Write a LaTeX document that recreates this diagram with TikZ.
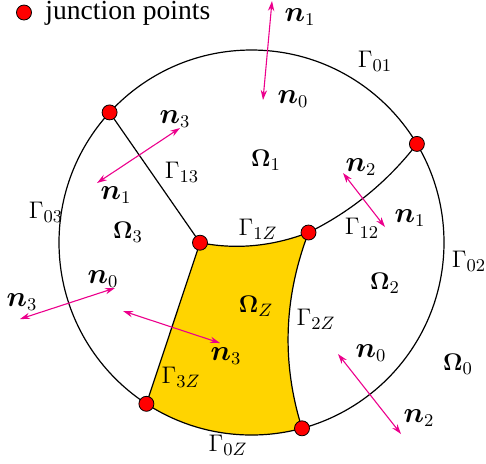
\documentclass[tikz,border=0pt]{standalone}
\usepackage{amsmath}
\usepackage[no-math]{fontspec}
\setmainfont{Liberation Serif}
\usetikzlibrary{arrows.meta}
\definecolor{zyellow}{RGB}{255,212,0}
\tikzset{
  junction/.style={circle, fill=red, draw=black, line width=0.4pt, minimum size=7.5pt, inner sep=0pt},
  bnd/.style={draw=black, line width=0.6pt},
  nrm/.style={draw=magenta, line width=0.55pt, {Stealth[length=5pt,width=3.2pt]}-{Stealth[length=5pt,width=3.2pt]}},
  lab/.style={inner sep=0pt, font=\fontsize{12.6}{15}\selectfont},
  nlab/.style={inner sep=0pt, font=\fontsize{13.5}{16}\selectfont},
}
\begin{document}
\begin{tikzpicture}[x=0.5pt,y=-0.5pt]
\useasboundingbox (0,0) rectangle (486,463);
% geometry
\coordinate (C) at (251.5,242.5);
\coordinate (TL) at (109.6,112.4);
\coordinate (TR) at (416.9,143.9);
\coordinate (BL) at (146.4,403.8);
\coordinate (BR) at (302,428.3);
\coordinate (A) at (200,242.7);
\coordinate (B) at (308.5,232.5);
% Omega_Z region
\fill[zyellow] (A) .. controls (236.2,249.8) and (272.3,246.4) .. (B)
  .. controls (283.6,297.8) and (281.5,363) .. (BR)
  arc[start angle=74.8, end angle=123.1, radius=192.5] -- cycle;
% boundaries
\draw[bnd] (C) circle[radius=192.5];
\draw[bnd] (TL) -- (A);
\draw[bnd] (A) -- (BL);
\draw[bnd] (A) .. controls (236.2,249.8) and (272.3,246.4) .. (B);
\draw[bnd] (B) .. controls (283.6,297.8) and (281.5,363) .. (BR);
\draw[bnd] (B) .. controls (351.4,211.3) and (387.6,181.7) .. (TR);
% junction points
\node[junction] (jTL) at (TL) {};
\node[junction] (jTR) at (TR) {};
\node[junction] (jBL) at (BL) {};
\node[junction] (jBR) at (BR) {};
\node[junction] (jA) at (A) {};
\node[junction] (jB) at (B) {};
% legend
\node[junction] (legdot) at (24,12.5) {};
\node[anchor=base west, inner sep=0pt, font=\fontsize{13.8}{16}\selectfont] (legtext) at (45,19) {junction points};
% normal vectors
\coordinate (a1s) at (272,1);   \coordinate (a1e) at (263,100);
\coordinate (a2s) at (180,128); \coordinate (a2e) at (97,183);
\coordinate (a3s) at (343,173); \coordinate (a3e) at (385,227);
\coordinate (a4s) at (115,288); \coordinate (a4e) at (20,319);
\coordinate (a5s) at (123,311); \coordinate (a5e) at (220,343);
\coordinate (a6s) at (338,354); \coordinate (a6e) at (401,434);
\draw[nrm] (a1s) -- (a1e);
\draw[nrm] (a2s) -- (a2e);
\draw[nrm] (a3s) -- (a3e);
\draw[nrm] (a4s) -- (a4e);
\draw[nrm] (a5s) -- (a5e);
\draw[nrm] (a6s) -- (a6e);
% normal labels
\node[nlab] (n1top) at (300,17) {$\boldsymbol{n}_1$};
\node[nlab] (n0top) at (293,99) {$\boldsymbol{n}_0$};
\node[nlab] (n3tl) at (175,119) {$\boldsymbol{n}_3$};
\node[nlab] (n1tl) at (116,195) {$\boldsymbol{n}_1$};
\node[nlab] (n2tr) at (361,167) {$\boldsymbol{n}_2$};
\node[nlab] (n1tr) at (410,218) {$\boldsymbol{n}_1$};
\node[nlab] (n0l) at (103,279) {$\boldsymbol{n}_0$};
\node[nlab] (n3l) at (22,302) {$\boldsymbol{n}_3$};
\node[nlab] (n3m) at (226,356) {$\boldsymbol{n}_3$};
\node[nlab] (n0br) at (371,353) {$\boldsymbol{n}_0$};
\node[nlab] (n2br) at (419,418) {$\boldsymbol{n}_2$};
% boundary labels
\node[lab] (G01) at (375,61) {$\Gamma_{01}$};
\node[lab] (G13) at (182,172) {$\Gamma_{13}$};
\node[lab] (G03) at (46,212) {$\Gamma_{03}$};
\node[lab] (G12) at (362,228) {$\Gamma_{12}$};
\node[lab] (G1Z) at (258,229) {$\Gamma_{1Z}$};
\node[lab] (G02) at (469,261) {$\Gamma_{02}$};
\node[lab] (G2Z) at (316,319) {$\Gamma_{2Z}$};
\node[lab] (G3Z) at (181,377) {$\Gamma_{3Z}$};
\node[lab] (G0Z) at (228,445) {$\Gamma_{0Z}$};
% domain labels
\node[lab] (O1) at (266,160) {$\mathbf{\Omega}_1$};
\node[lab] (O3) at (128,232) {$\mathbf{\Omega}_3$};
\node[lab] (O2) at (385,283) {$\mathbf{\Omega}_2$};
\node[lab] (OZ) at (256,306) {$\mathbf{\Omega}_Z$};
\node[lab] (O0) at (458,364) {$\mathbf{\Omega}_0$};
\end{tikzpicture}
\end{document}
